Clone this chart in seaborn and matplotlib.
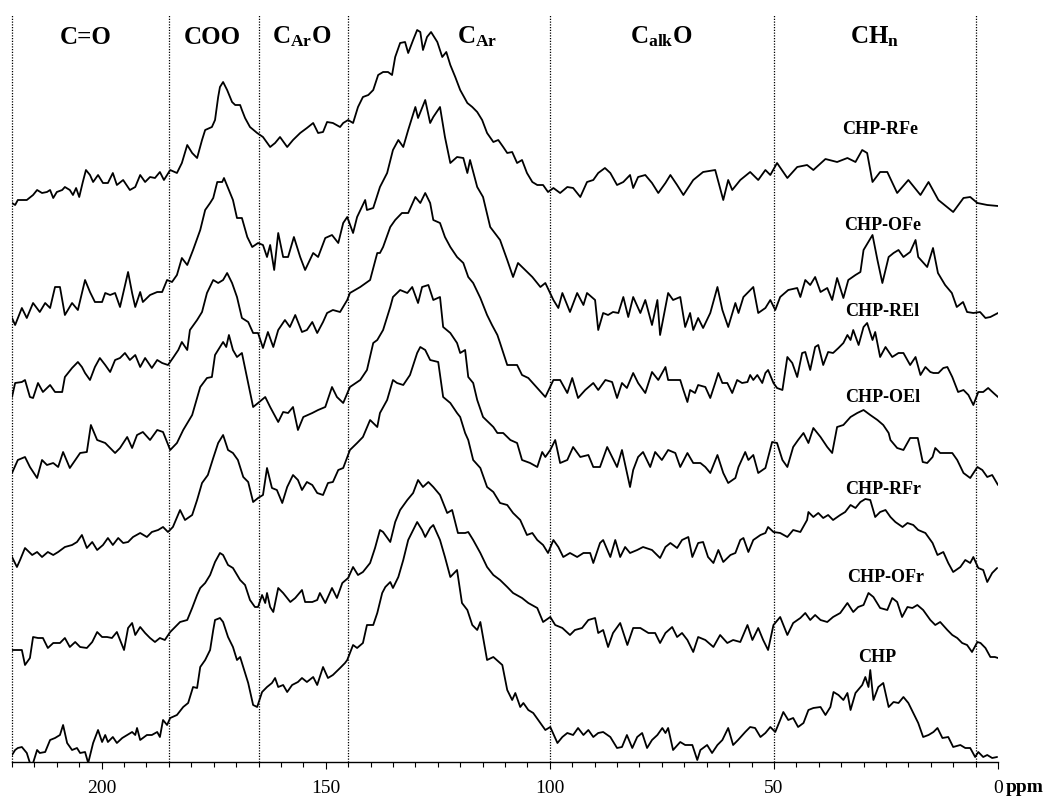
import matplotlib
matplotlib.use("Agg")
import matplotlib.pyplot as plt
from matplotlib.ticker import MultipleLocator, FixedLocator
import numpy as np
import pandas as pd
import seaborn as sns

# ---------------- data: (chemical shift ppm, intensity) per sample ----------------
chp_rfe = [(220.0,7),(219.3,5),(218.7,10),(216.7,10),(215.3,15),(214.4,20),(213.3,17),(212.2,18),(211.5,20),(210.8,12),
 (210.0,18),(208.8,20),(208.2,23),(207.1,20),(206.4,15),(205.7,22),(205.0,13),(204.2,28),(203.5,40),(202.6,35),
 (201.9,28),(200.8,35),(199.7,27),(198.6,27),(197.5,37),(196.6,25),(195.2,30),(193.7,20),(192.5,23),(191.4,35),
 (190.3,28),(189.2,33),(188.1,32),(187.0,38),(186.1,30),(184.7,40),(183.2,37),(182.1,47),(180.9,65),(179.8,57),
 (178.7,52),(177.6,70),(176.9,80),(175.4,83),(174.7,90),(174.0,113),(173.6,123),(172.9,128),(172.0,120),(170.9,108),
 (170.2,105),(169.1,105),(168.7,100),(168.0,92),(166.9,83),(165.3,77),(164.0,73),(162.4,63),(161.3,67),(160.2,73),
 (158.6,63),(157.3,70),(155.7,77),(154.2,82),(152.8,87),(151.7,77),(150.6,78),(149.7,88),(148.4,87),(146.8,83),
 (146.1,87),(145.0,90),(143.9,87),(142.8,103),(141.7,113),(140.5,115),(139.4,120),(138.3,135),(137.2,138),(136.1,138),
 (135.2,135),(134.5,153),(133.4,167),(132.3,168),(131.6,157),(130.5,170),(129.6,180),(128.9,178),(128.3,160),(127.4,173),
 (126.5,178),(125.1,168),(124.0,153),(123.1,158),(122.2,145),(121.1,133),(120.0,120),(118.4,107),(117.3,103),(116.2,98),
 (115.1,90),(114.0,77),(112.6,68),(111.5,70),(110.4,63),(109.5,57),(108.4,58),(107.3,47),(106.2,50),(105.1,37),
 (103.9,28),(102.8,25),(101.5,25),(100.4,18),(99.2,22),(97.7,17),(96.1,23),(94.8,22),(93.2,13),(91.7,28),
 (90.3,30),(89.2,37),(87.7,42),(86.5,37),(85.0,25),(83.6,28),(82.1,35),(81.4,22),(80.3,33),(78.7,35),
 (77.2,27),(75.8,17),(74.2,27),(73.1,35),(71.6,25),(70.2,15),(68.0,30),(65.8,38),(63.1,40),(61.3,10),
 (60.2,30),(59.3,20),(57.5,30),(55.3,38),(53.5,30),(51.9,40),(50.8,35),(49.3,47),(47.0,32),(44.8,43),
 (42.6,45),(41.2,40),(38.5,51),(35.9,48),(33.6,52),(31.8,48),(30.3,60),(29.2,57),(28.0,28),(26.3,38),
 (24.7,38),(22.5,17),(20.0,30),(17.3,15),(15.5,28),(13.3,10),(10.0,-2),(7.7,12),(6.2,13),(4.6,7),
 (2.4,5),(0.0,4)]

chp_ofe = [(220.0,-3),(219.3,-10),(217.8,7),(216.7,-3),(215.3,12),(213.8,3),(212.6,12),(211.5,7),(210.4,28),(209.3,28),
 (208.2,0),(206.6,12),(205.3,5),(203.7,35),(202.6,23),(201.5,13),(199.9,13),(199.2,22),(198.1,20),(197.0,22),
 (195.9,8),(194.1,43),(193.2,22),(192.5,8),(191.4,23),(190.8,13),(189.2,20),(187.6,23),(186.5,23),(185.4,35),
 (184.3,33),(183.2,40),(182.1,57),(180.9,50),(179.6,65),(178.0,85),(176.9,105),(175.8,112),(175.1,117),(174.2,133),
 (173.1,133),(172.7,137),(171.8,127),(170.7,115),(169.8,97),(168.7,97),(167.5,78),(166.4,68),(165.1,72),(164.0,70),
 (163.1,58),(162.4,70),(161.5,45),(160.6,82),(159.5,58),(158.4,58),(157.1,78),(155.7,58),(154.6,45),(152.8,62),
 (151.7,58),(150.1,77),(148.6,80),(147.2,72),(146.1,92),(145.2,98),(143.9,82),(143.0,98),(141.2,115),(140.8,105),
 (139.4,107),(137.9,128),(136.3,142),(135.0,165),(133.8,175),(132.7,168),(131.6,185),(130.0,208),(129.4,197),(127.8,215),
 (126.7,192),(126.0,198),(124.5,208),(123.4,178),(122.2,152),(120.7,158),(119.3,157),(118.4,142),(117.8,155),(116.2,128),
 (114.9,118),(113.3,88),(111.1,75),(109.5,55),(108.2,38),(107.1,52),(105.5,45),(103.9,38),(102.1,28),(101.0,32),
 (99.2,15),(98.1,7),(97.2,22),(95.5,3),(93.9,22),(92.5,10),(91.7,22),(89.9,15),(89.2,-15),(88.1,2),
 (87.0,0),(85.9,3),(84.7,2),(83.6,18),(82.5,-2),(81.4,18),(79.8,2),(78.7,15),(77.2,-10),(76.0,15),
 (75.4,-20),(73.6,22),(72.5,15),(70.9,18),(69.8,-12),(68.7,2),(68.0,-15),(66.9,-3),(65.8,-13),(64.2,2),
 (62.6,28),(61.5,5),(60.2,-12),(58.6,12),(57.9,2),(56.8,18),(55.7,23),(54.6,28),(53.5,2),(51.9,7),
 (50.8,15),(49.7,5),(48.6,18),(46.8,25),(44.8,27),(44.1,18),(43.0,35),(41.9,30),(40.8,38),(39.6,23),
 (38.1,27),(37.0,15),(35.9,37),(34.5,17),(33.4,35),(31.8,40),(30.7,43),(30.0,65),(28.0,80),(26.9,55),
 (25.8,32),(24.4,58),(23.3,62),(22.2,65),(21.1,58),(19.6,63),(18.4,75),(17.8,58),(15.8,48),(14.5,67),
 (13.4,42),(11.8,30),(10.3,22),(9.2,8),(7.8,13),(6.9,3),(5.5,2),(4.0,3),(2.8,-3),(1.7,-2),
 (0.0,2)]

chp_rel = [(220.0,-2),(219.3,12),(217.8,13),(217.1,15),(216.0,-2),(215.3,-3),(214.2,12),(213.1,3),(211.5,10),(210.4,3),
 (208.8,3),(208.2,18),(206.6,27),(205.3,33),(204.4,28),(203.7,22),(202.6,15),(201.5,28),(200.4,37),(199.2,30),
 (198.1,23),(197.0,35),(195.9,37),(194.8,42),(193.7,35),(192.5,40),(191.4,28),(190.3,37),(188.8,27),(187.6,35),
 (186.5,32),(185.2,30),(184.1,37),(182.9,45),(182.1,53),(180.9,45),(180.3,65),(178.7,75),(177.6,83),(176.5,102),
 (175.1,115),(174.0,112),(172.9,115),(172.0,122),(170.9,112),(169.8,98),(168.7,77),(167.3,73),(166.2,62),(165.1,62),
 (164.0,47),(162.9,63),(161.7,48),(160.6,65),(159.1,75),(158.0,68),(156.8,80),(155.3,63),(154.2,65),(153.0,73),
 (151.9,62),(150.6,73),(149.7,82),(148.4,85),(146.8,83),(145.2,95),(144.6,102),(142.3,108),(140.1,115),(138.5,142),
 (137.9,142),(137.2,148),(135.6,168),(134.5,175),(133.0,182),(131.6,182),(130.0,198),(128.9,192),(127.8,202),(126.7,192),
 (126.0,175),(124.5,172),(123.4,158),(122.2,148),(120.7,138),(119.3,132),(118.2,118),(117.1,112),(115.5,97),(114.0,80),
 (112.9,70),(111.7,60),(111.1,52),(109.5,30),(107.3,30),(106.2,20),(104.8,17),(102.8,7),(101.0,-2),(99.2,15),
 (97.7,15),(96.1,2),(95.0,17),(93.7,-3),(92.1,5),(90.3,12),(89.2,5),(87.6,15),(86.1,13),(85.0,-3),
 (83.9,12),(82.8,7),(81.4,22),(80.3,12),(78.7,2),(77.2,23),(75.8,15),(74.2,28),(73.6,15),(72.0,15),
 (70.9,15),(70.2,5),(69.3,-7),(68.7,5),(67.6,2),(66.9,10),(65.3,8),(64.2,-3),(63.1,12),(62.4,22),
 (61.5,12),(60.4,12),(59.3,2),(58.2,15),(57.1,12),(55.9,13),(55.3,20),(54.6,15),(53.7,20),(52.6,12),
 (51.9,22),(51.3,25),(50.1,12),(49.3,7),(48.1,5),(47.0,38),(45.9,32),(44.8,18),(43.7,42),(43.0,43),
 (41.9,25),(40.8,48),(40.1,50),(39.0,30),(37.9,43),(36.8,42),(35.6,47),(34.5,52),(33.6,60),(32.9,55),
 (32.3,65),(31.1,50),(30.0,68),(29.2,72),(28.0,55),(27.4,63),(26.3,38),(25.1,48),(23.6,38),(22.2,42),
 (21.1,42),(19.6,30),(18.4,38),(17.3,20),(16.2,28),(15.1,23),(14.4,22),(13.3,22),(12.2,27),(11.3,28),
 (10.2,18),(8.9,3),(7.7,5),(6.6,0),(5.5,-10),(4.4,3),(3.3,3),(2.2,7),(1.0,2),(0.0,-2)]

chp_oel = [(220.0,12),(218.7,25),(217.1,28),(216.0,18),(214.4,7),(213.3,25),(212.2,20),(210.8,22),(209.7,18),(208.6,33),
 (207.1,17),(204.8,32),(203.3,33),(202.4,60),(201.0,45),(199.2,42),(198.1,37),(197.0,32),(195.9,37),(194.3,48),
 (193.2,37),(192.1,50),(190.8,53),(189.2,45),(187.6,55),(186.3,53),(184.7,35),(183.2,42),(181.8,55),(179.8,70),
 (178.0,98),(176.5,107),(175.4,108),(174.7,130),(172.9,143),(172.2,138),(171.6,150),(170.7,135),(169.8,128),(168.7,132),
 (167.3,102),(166.2,78),(165.1,82),(163.5,88),(162.4,78),(160.6,63),(159.5,73),(158.4,72),(157.3,78),(156.2,55),
 (155.0,68),(153.0,72),(151.7,75),(150.1,78),(148.6,98),(147.5,88),(146.1,82),(144.6,98),(142.3,105),(140.8,115),
 (139.4,142),(138.5,145),(137.2,155),(135.6,178),(135.0,188),(133.4,195),(131.8,192),(130.7,198),(129.4,182),(128.5,198),
 (127.1,200),(126.0,185),(124.5,188),(123.8,158),(122.2,152),(120.7,142),(120.0,132),(118.9,135),(118.2,108),(117.1,102),
 (116.2,85),(114.9,68),(112.6,58),(111.7,52),(110.4,52),(108.8,45),(107.3,42),(106.2,25),(104.4,22),(102.8,18),
 (101.7,33),(101.0,28),(99.9,35),(98.8,45),(97.7,22),(96.1,25),(94.8,38),(93.2,28),(91.4,30),(90.3,18),
 (88.8,18),(87.2,38),(86.1,28),(85.0,18),(83.9,35),(82.1,-2),(81.4,15),(80.3,28),(79.2,33),(77.6,18),
 (76.5,33),(75.0,25),(73.6,35),(72.0,32),(70.9,18),(69.3,32),(68.0,22),(66.4,22),(65.3,18),(64.2,12),
 (62.6,30),(61.3,12),(60.2,2),(58.6,7),(57.9,18),(56.4,33),(55.7,25),(54.6,30),(53.5,12),(51.9,17),
 (50.4,43),(49.3,42),(48.1,25),(47.0,18),(45.7,38),(44.6,45),(43.4,52),(42.3,42),(41.2,57),(39.6,48),
 (38.1,38),(37.0,32),(35.9,58),(34.5,60),(32.9,68),(31.4,72),(30.0,75),(28.5,70),(26.9,65),(25.6,60),
 (24.4,52),(24.0,45),(22.5,37),(21.1,35),(19.6,47),(17.9,47),(16.8,23),(15.8,22),(14.6,28),(14.0,37),
 (12.9,32),(11.3,32),(10.2,32),(9.1,25),(7.7,12),(6.2,7),(4.6,18),(3.5,15),(2.4,8),(1.3,10),
 (0.0,0)]

chp_rfr = [(220.0,13),(218.9,3),(218.2,10),(217.1,22),(215.5,15),(214.4,18),(213.3,13),(212.0,18),(210.8,15),(209.7,18),
 (208.2,23),(206.6,25),(205.5,28),(204.4,35),(203.3,22),(202.1,28),(201.0,20),(199.7,25),(198.6,32),(197.5,25),
 (196.3,32),(195.2,27),(194.1,28),(193.0,33),(191.4,37),(189.9,33),(188.8,38),(187.4,40),(186.3,43),(185.2,38),
 (184.1,43),(182.5,60),(181.4,50),(179.8,55),(178.7,70),(177.6,87),(176.3,95),(175.1,112),(174.0,127),(172.9,135),
 (171.8,120),(170.7,117),(169.6,110),(168.4,93),(167.3,88),(166.2,68),(165.1,72),(164.0,75),(163.1,102),(162.0,82),
 (160.9,80),(159.7,67),(158.6,83),(157.3,95),(156.2,90),(155.3,80),(154.2,88),(153.0,85),(151.9,77),(150.6,75),
 (149.5,87),(148.4,88),(147.2,100),(146.1,102),(144.6,120),(143.0,127),(141.7,133),(140.1,150),(138.5,143),(137.9,157),
 (136.3,170),(135.0,190),(134.1,187),(132.7,185),(131.2,195),(129.6,217),(128.9,223),(127.8,220),(126.7,210),(124.9,208),
 (123.8,173),(122.2,167),(120.7,157),(120.0,153),(118.9,137),(118.2,130),(117.1,110),(115.5,102),(114.0,83),(112.6,78),
 (111.1,67),(109.5,65),(108.2,57),(106.6,50),(105.1,35),(103.9,37),(102.8,30),(101.5,25),(100.4,17),(99.2,30),
 (98.1,23),(97.0,13),(95.5,17),(93.9,13),(92.5,17),(91.0,17),(90.3,7),(88.8,27),(88.1,30),(86.5,13),
 (85.4,30),(84.3,13),(83.2,23),(82.1,17),(80.5,20),(79.2,23),(77.2,20),(75.4,12),(74.2,23),(73.1,27),
 (71.6,22),(70.5,30),(69.1,33),(68.2,13),(66.9,27),(65.8,28),(64.7,13),(63.5,7),(62.4,20),(61.3,8),
 (59.7,15),(58.6,17),(57.5,30),(56.8,32),(55.7,18),(54.6,30),(53.0,35),(51.9,37),(51.3,43),(50.1,38),
 (48.6,37),(47.0,33),(45.7,40),(44.1,38),(42.6,50),(42.3,58),(41.2,53),(40.1,57),(39.0,52),(37.9,55),
 (36.8,50),(35.2,55),(34.1,58),(32.9,65),(31.8,62),(30.7,68),(29.6,71),(28.5,70),(27.4,53),(26.3,58),
 (25.1,60),(24.0,53),(22.9,48),(21.3,43),(20.2,47),(18.9,45),(17.8,40),(16.2,37),(14.6,27),(13.5,15),
 (12.2,18),(11.1,7),(10.0,-2),(8.4,3),(7.3,10),(6.2,7),(5.5,13),(4.4,2),(3.3,0),(2.4,-12),
 (1.3,-3),(0.2,2)]

chp_ofr = [(220.0,10),(218.9,10),(217.8,10),(217.1,-5),(216.0,2),(215.3,23),(214.2,22),(213.1,22),(212.0,12),(210.8,17),
 (209.3,17),(208.2,22),(207.1,13),(205.9,18),(204.8,13),(203.3,12),(202.1,18),(201.0,28),(199.9,23),(198.8,23),
 (197.7,22),(196.6,28),(195.9,20),(195.0,10),(194.1,32),(193.2,37),(192.5,25),(191.4,33),(190.3,27),(189.2,22),
 (188.1,18),(187.0,22),(185.9,20),(184.7,28),(183.6,33),(182.5,38),(180.9,40),(179.8,52),(178.7,65),(178.0,72),
 (176.9,77),(175.8,85),(174.7,98),(173.6,107),(172.9,105),(171.8,95),(170.7,92),(169.1,80),(168.0,75),(166.9,60),
 (165.8,53),(165.1,53),(164.2,65),(163.5,57),(163.1,67),(162.4,53),(161.7,48),(160.6,72),(159.5,67),(157.9,58),
 (156.8,62),(155.3,70),(154.6,58),(153.0,58),(151.9,60),(151.3,67),(150.1,57),(148.6,72),(147.5,62),(146.3,77),
 (145.0,82),(143.9,93),(142.8,85),(141.7,88),(140.1,97),(139.0,112),(137.9,130),(137.2,128),(135.6,118),(134.5,138),
 (133.4,150),(131.8,160),(130.5,167),(129.4,180),(128.3,173),(127.1,178),(126.0,173),(124.5,165),(122.9,147),(121.8,150),
 (120.5,127),(118.9,127),(118.2,128),(117.1,120),(115.5,107),(114.0,93),(112.6,85),(111.1,80),(109.5,73),(108.2,67),
 (106.2,62),(104.8,57),(102.8,52),(101.5,38),(99.9,43),(98.8,35),(97.2,32),(95.5,25),(94.4,30),(92.8,32),
 (91.4,40),(89.9,42),(89.2,27),(88.1,30),(87.0,13),(85.9,27),(84.3,37),(82.7,15),(81.4,32),(79.8,32),
 (78.0,27),(76.5,27),(75.4,17),(74.2,27),(72.7,33),(71.6,23),(70.5,27),(69.3,20),(68.0,8),(66.9,23),
 (65.3,20),(63.5,13),(62.0,25),(60.4,17),(59.1,20),(57.5,18),(55.9,35),(54.8,20),(53.5,32),(52.4,20),
 (51.3,10),(50.1,35),(48.6,43),(47.0,25),(45.7,37),(44.1,42),(43.0,47),(41.9,40),(40.8,45),(39.6,40),
 (38.1,38),(36.8,43),(35.2,47),(33.6,57),(32.3,48),(31.2,53),(30.0,55),(28.9,67),(27.8,63),(26.3,52),
 (24.7,50),(23.6,62),(22.5,58),(21.4,43),(20.2,53),(19.1,52),(18.0,55),(16.7,50),(15.1,40),(14.0,35),
 (12.9,38),(11.3,30),(10.2,25),(9.1,22),(8.0,17),(6.9,15),(5.8,8),(4.6,18),(3.9,17),(2.8,12),
 (1.7,3),(0.7,3),(0.0,2)]

chp = [(220.0,5),(219.3,10),(218.7,12),(217.8,13),(216.7,7),(216.0,-3),(215.3,-3),(214.4,10),(213.8,7),(212.6,8),
 (211.5,20),(210.4,22),(209.3,25),(208.6,35),(207.7,17),(206.6,10),(205.5,12),(204.8,7),(203.7,8),(203.0,-3),
 (201.9,17),(200.8,30),(199.9,18),(199.2,25),(198.6,18),(197.5,23),(196.6,17),(195.4,22),(194.3,25),(193.2,28),
 (192.5,25),(192.1,32),(191.4,20),(189.9,25),(188.8,25),(187.6,28),(187.0,23),(186.3,40),(185.4,35),(184.7,42),
 (183.2,45),(181.8,53),(180.7,57),(179.6,73),(178.7,72),(178.0,93),(176.9,100),(175.8,110),(175.1,130),(174.7,140),
 (173.6,142),(172.9,138),(171.8,123),(170.7,113),(169.8,100),(169.1,103),(168.4,93),(167.3,77),(166.2,55),(165.3,53),
 (164.2,68),(163.1,73),(162.0,77),(161.3,82),(160.6,73),(159.5,75),(158.6,68),(157.5,75),(156.2,78),(155.3,82),
 (154.2,78),(152.8,83),(151.9,75),(150.6,93),(149.5,82),(148.4,85),(146.8,92),(145.7,97),(145.2,100),(143.9,115),
 (143.0,112),(141.7,117),(140.8,135),(139.4,135),(138.5,147),(137.4,167),(136.7,173),(135.6,178),(135.0,172),(133.8,183),
 (132.7,200),(131.6,220),(130.5,230),(129.6,238),(128.5,230),(127.8,223),(126.7,232),(126.0,235),(124.5,220),(123.4,203),
 (122.2,183),(120.7,190),(119.6,157),(118.4,150),(117.3,135),(116.2,130),(115.5,138),(114.0,100),(112.6,103),(110.6,95),
 (109.5,70),(108.4,60),(107.7,67),(106.6,53),(105.9,57),(104.8,50),(103.7,47),(102.1,37),(101.0,30),(99.9,33),
 (98.3,17),(97.2,23),(96.1,27),(94.8,25),(93.7,32),(92.5,25),(91.4,30),(90.3,23),(89.2,27),(88.1,28),
 (86.5,23),(85.0,12),(83.9,13),(82.8,25),(81.6,12),(80.5,23),(79.4,27),(78.3,12),(77.2,20),(76.0,25),
 (74.9,32),(74.2,27),(73.6,32),(72.5,10),(70.9,18),(69.8,15),(68.2,15),(67.1,0),(66.4,10),(64.9,15),
 (63.8,7),(62.6,15),(61.5,20),(60.2,32),(59.1,15),(58.0,20),(56.4,28),(55.3,33),(54.2,32),(53.0,23),
 (51.9,27),(50.8,33),(49.7,28),(48.6,40),(47.9,48),(46.8,40),(45.7,42),(44.6,33),(43.4,37),(42.3,50),
 (41.2,52),(39.6,53),(38.5,45),(37.4,53),(36.7,68),(35.6,65),(34.5,60),(33.6,67),(32.9,50),(31.8,67),
 (30.3,75),(29.6,83),(28.9,73),(28.5,90),(27.8,60),(26.7,73),(25.6,77),(24.4,53),(23.3,58),(22.2,57),
 (21.1,63),(20.0,57),(18.9,47),(17.8,37),(16.7,23),(15.5,25),(14.4,28),(13.5,32),(12.4,22),(11.1,23),
 (10.0,13),(8.4,15),(7.3,12),(6.2,12),(5.1,3),(4.4,8),(3.3,3),(2.4,5),(1.3,2),(0.2,3)]

sample_names = ["CHP-RFe", "CHP-OFe", "CHP-REl", "CHP-OEl", "CHP-RFr", "CHP-OFr", "CHP"]
region_labels = ["C=O", "COO", r"C$_{Ar}$O", r"C$_{Ar}$", r"C$_{alk}$O", r"CH$_n$"]
region_bounds = [220, 185, 165, 145, 100, 50, 5]
tick_values = [200, 150, 100, 50, 0]
tick_labels = ["200", "150", "100", "50", "0"]

# ---------------- styling / layout ----------------
sns.set_theme(style="white")
plt.rcParams["font.family"] = ["Liberation Serif", "DejaVu Serif"]
plt.rcParams["mathtext.fontset"] = "custom"
plt.rcParams["mathtext.rm"] = "Liberation Serif:bold"
plt.rcParams["mathtext.bf"] = "Liberation Serif:bold"
plt.rcParams["mathtext.it"] = "Liberation Serif:bold"
plt.rcParams["mathtext.default"] = "bf"
plt.rcParams["text.color"] = "black"
plt.rcParams["xtick.color"] = "black"
plt.rcParams["xtick.labelcolor"] = "black"
plt.rcParams["axes.edgecolor"] = "black"

spectra = [chp_rfe, chp_ofe, chp_rel, chp_oel, chp_rfr, chp_ofr, chp]
stack_offsets = [552, 447, 367, 277, 192, 102, 2]

frames = []
for name, spec, off in zip(sample_names, spectra, stack_offsets):
    arr = np.array(spec, dtype=float)
    frames.append(pd.DataFrame({"sample": name, "shift": arr[:, 0],
                                "signal": arr[:, 1] + off}))
df = pd.concat(frames, ignore_index=True)

W, H = 1044, 796
fig = plt.figure(figsize=(W / 100, H / 100), dpi=100)
ax = fig.add_axes([12 / W, 34 / H, 986 / W, 747 / H])

sns.lineplot(data=df, x="shift", y="signal", units="sample", estimator=None,
             sort=False, color="black", linewidth=1.3, ax=ax, legend=False)

ax.set_xlim(220, 0)
ax.set_ylim(0, 747)
ax.set_xlabel("")
ax.set_ylabel("")
ax.set_yticks([])
for s in ["left", "top", "right"]:
    ax.spines[s].set_visible(False)
ax.spines["bottom"].set_color("black")
ax.spines["bottom"].set_linewidth(1.0)

ax.xaxis.set_major_locator(FixedLocator(tick_values))
ax.set_xticklabels(tick_labels)
ax.xaxis.set_minor_locator(MultipleLocator(5))
ax.tick_params(axis="x", which="major", direction="out", length=5, width=0.8,
               color="black", labelcolor="black", labelsize=14, pad=8, bottom=True)
ax.tick_params(axis="x", which="minor", direction="out", length=3.5, width=0.8,
               color="black", bottom=True)

for b in region_bounds:
    ax.axvline(b, color="black", lw=0.9, ls=(0, (1, 1.2)), clip_on=False, zorder=1)

region_centers = [203.5, 175.4, 155.3, 116.3, 75.1, 27.6]
for lab, xc in zip(region_labels, region_centers):
    ax.text(xc, 725, lab, ha="center", va="center", fontsize=18,
            fontweight="bold", color="black")

label_x = [26.3, 25.8, 25.8, 25.8, 25.6, 25.1, 26.9]
label_y = [632, 536, 450, 365, 272, 185, 104]
for name, lx, ly in zip(sample_names, label_x, label_y):
    ax.text(lx, ly, name, ha="center", va="center", fontsize=13,
            fontweight="bold", color="black")

fig.text(1006 / W, 1 - 792 / H, "ppm", ha="left", va="baseline",
         fontsize=14, fontweight="bold", color="black")

fig.savefig("out.png", dpi=100)
